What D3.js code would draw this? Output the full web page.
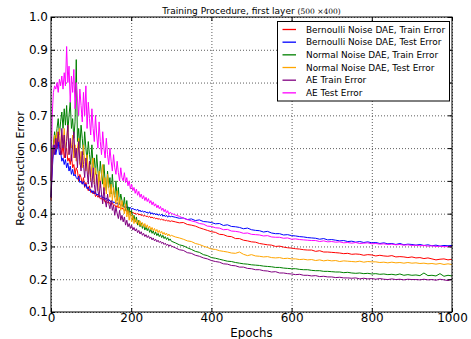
<!DOCTYPE html>
<html>
<head>
<meta charset="utf-8">
<script src="https://cdn.jsdelivr.net/npm/d3@7"></script>
<style>
  body { margin: 0; background: #fff; }
  svg { display: block; font-family: "DejaVu Sans", sans-serif; }
</style>
</head>
<body>
<svg id="chart" width="471" height="339"></svg>
<script>
// sampled epochs: every 3 up to 300, every 10 afterwards
const epochs = d3.range(0, 301, 3).concat(d3.range(310, 1001, 10))

const seriesNames = [
  'Bernoulli Noise DAE, Train Error',
  'Bernoulli Noise DAE, Test Error',
  'Normal Noise DAE, Train Error',
  'Normal Noise DAE, Test Error',
  'AE Train Error',
  'AE Test Error'
]

const bernoulliTrain = [
  0.44, 0.55, 0.61, 0.63, 0.59, 0.62, 0.64, 0.60, 0.61, 0.58,
  0.61, 0.57, 0.59, 0.60, 0.56, 0.57, 0.55, 0.58, 0.54, 0.55,
  0.52, 0.54, 0.53, 0.50, 0.52, 0.51, 0.49, 0.51, 0.48, 0.495,
  0.48, 0.47, 0.485, 0.465, 0.47, 0.46, 0.468, 0.452, 0.458, 0.45,
  0.455, 0.445, 0.448, 0.44, 0.446, 0.435, 0.44, 0.432, 0.436, 0.43,
  0.428, 0.434, 0.424, 0.427, 0.42, 0.425, 0.417, 0.421, 0.414, 0.418,
  0.413, 0.409, 0.415, 0.406, 0.41, 0.404, 0.408, 0.401, 0.405, 0.40,
  0.402, 0.398, 0.401, 0.396, 0.399, 0.394, 0.397, 0.392, 0.395, 0.391,
  0.393, 0.389, 0.392, 0.387, 0.39, 0.386, 0.388, 0.384, 0.386, 0.383,
  0.385, 0.381, 0.384, 0.38, 0.382, 0.378, 0.381, 0.377, 0.379, 0.376,
  0.378,
  0.375, 0.372, 0.373, 0.367, 0.365, 0.362, 0.357, 0.353, 0.349, 0.345,
  0.343, 0.337, 0.336, 0.331, 0.33, 0.324, 0.324, 0.319, 0.317, 0.314,
  0.313, 0.309, 0.307, 0.305, 0.304, 0.30, 0.301, 0.298, 0.296, 0.295,
  0.293, 0.292, 0.29, 0.289, 0.289, 0.285, 0.287, 0.283, 0.283, 0.282,
  0.281, 0.28, 0.278, 0.279, 0.276, 0.277, 0.276, 0.273, 0.275, 0.274,
  0.271, 0.273, 0.271, 0.27, 0.272, 0.268, 0.269, 0.268, 0.266, 0.268,
  0.265, 0.266, 0.263, 0.265, 0.262, 0.259, 0.261, 0.262, 0.259, 0.261
]

const bernoulliTest = [
  0.45, 0.53, 0.59, 0.61, 0.58, 0.60, 0.62, 0.58, 0.59, 0.56,
  0.57, 0.55, 0.565, 0.54, 0.555, 0.53, 0.545, 0.52, 0.535, 0.515,
  0.52, 0.51, 0.505, 0.515, 0.495, 0.50, 0.49, 0.498, 0.483, 0.49,
  0.476, 0.482, 0.47, 0.474, 0.464, 0.47, 0.46, 0.466, 0.456, 0.46,
  0.455, 0.452, 0.457, 0.447, 0.451, 0.443, 0.448, 0.44, 0.444, 0.438,
  0.437, 0.441, 0.432, 0.436, 0.429, 0.434, 0.426, 0.43, 0.424, 0.428,
  0.423, 0.419, 0.425, 0.417, 0.421, 0.415, 0.419, 0.413, 0.417, 0.412,
  0.413, 0.41, 0.414, 0.407, 0.411, 0.405, 0.409, 0.404, 0.408, 0.403,
  0.405, 0.401, 0.406, 0.399, 0.403, 0.398, 0.402, 0.396, 0.40, 0.395,
  0.398, 0.394, 0.399, 0.392, 0.396, 0.391, 0.395, 0.389, 0.394, 0.39,
  0.392,
  0.389, 0.386, 0.387, 0.382, 0.384, 0.379, 0.381, 0.376, 0.375, 0.373,
  0.369, 0.37, 0.364, 0.366, 0.361, 0.36, 0.358, 0.354, 0.356, 0.351,
  0.349, 0.348, 0.344, 0.346, 0.341, 0.339, 0.339, 0.335, 0.336, 0.333,
  0.332, 0.33, 0.329, 0.327, 0.326, 0.325, 0.322, 0.324, 0.32, 0.321,
  0.319, 0.317, 0.318, 0.315, 0.316, 0.313, 0.315, 0.312, 0.314, 0.311,
  0.312, 0.309, 0.311, 0.308, 0.309, 0.306, 0.309, 0.305, 0.307, 0.306,
  0.304, 0.306, 0.303, 0.305, 0.302, 0.304, 0.301, 0.303, 0.302, 0.303
]

const normalTrain = [
  0.50, 0.58, 0.61, 0.65, 0.62, 0.66, 0.69, 0.64, 0.68, 0.71,
  0.66, 0.72, 0.67, 0.73, 0.65, 0.70, 0.74, 0.66, 0.69, 0.63,
  0.68, 0.87, 0.62, 0.66, 0.60, 0.67, 0.63, 0.58, 0.65, 0.60,
  0.56, 0.62, 0.58, 0.55, 0.61, 0.54, 0.57, 0.52, 0.58, 0.53,
  0.50, 0.56, 0.52, 0.49, 0.55, 0.50, 0.47, 0.53, 0.48, 0.51,
  0.46, 0.52, 0.47, 0.45, 0.50, 0.44, 0.48, 0.43, 0.46, 0.44,
  0.42, 0.45, 0.41, 0.44, 0.40, 0.42, 0.395, 0.41, 0.38, 0.395,
  0.375, 0.39, 0.365, 0.38, 0.36, 0.372, 0.355, 0.366, 0.35, 0.36,
  0.348, 0.357, 0.343, 0.352, 0.34, 0.348, 0.336, 0.344, 0.333, 0.34,
  0.33, 0.337, 0.327, 0.334, 0.324, 0.33, 0.321, 0.327, 0.318, 0.323,
  0.316,
  0.311, 0.305, 0.302, 0.296, 0.291, 0.285, 0.282, 0.275, 0.272, 0.266,
  0.264, 0.261, 0.258, 0.255, 0.254, 0.251, 0.249, 0.247, 0.246, 0.244,
  0.243, 0.242, 0.24, 0.239, 0.238, 0.236, 0.236, 0.234, 0.233, 0.232,
  0.232, 0.23, 0.229, 0.229, 0.227, 0.226, 0.226, 0.224, 0.224, 0.223,
  0.222, 0.222, 0.22, 0.221, 0.219, 0.218, 0.219, 0.217, 0.218, 0.216,
  0.217, 0.215, 0.216, 0.214, 0.215, 0.213, 0.216, 0.212, 0.214, 0.212,
  0.213, 0.211, 0.219, 0.211, 0.212, 0.21, 0.217, 0.209, 0.212, 0.21
]

const normalTest = [
  0.50, 0.57, 0.60, 0.64, 0.61, 0.65, 0.62, 0.66, 0.60, 0.64,
  0.61, 0.66, 0.59, 0.63, 0.67, 0.58, 0.62, 0.60, 0.64, 0.57,
  0.61, 0.56, 0.60, 0.63, 0.55, 0.59, 0.54, 0.61, 0.56, 0.53,
  0.58, 0.52, 0.56, 0.50, 0.55, 0.57, 0.49, 0.54, 0.51, 0.47,
  0.53, 0.48, 0.52, 0.55, 0.47, 0.51, 0.46, 0.52, 0.48, 0.45,
  0.49, 0.44, 0.48, 0.45, 0.43, 0.47, 0.42, 0.45, 0.41, 0.44,
  0.42, 0.40, 0.43, 0.39, 0.41, 0.38, 0.405, 0.375, 0.395, 0.37,
  0.385, 0.37, 0.38, 0.365, 0.378, 0.362, 0.373, 0.36, 0.37, 0.357,
  0.366, 0.355, 0.362, 0.351, 0.358, 0.348, 0.355, 0.345, 0.352, 0.342,
  0.349, 0.34, 0.346, 0.337, 0.343, 0.335, 0.341, 0.332, 0.338, 0.331,
  0.334,
  0.329, 0.326, 0.322, 0.317, 0.315, 0.309, 0.306, 0.301, 0.297, 0.292,
  0.291, 0.287, 0.285, 0.283, 0.28, 0.279, 0.283, 0.276, 0.272, 0.275,
  0.271, 0.27, 0.268, 0.269, 0.266, 0.265, 0.266, 0.263, 0.264, 0.262,
  0.262, 0.26, 0.261, 0.259, 0.26, 0.257, 0.259, 0.256, 0.258, 0.256,
  0.257, 0.254, 0.256, 0.255, 0.254, 0.253, 0.255, 0.252, 0.254, 0.253,
  0.253, 0.251, 0.252, 0.25, 0.252, 0.25, 0.251, 0.249, 0.251, 0.249,
  0.25, 0.248, 0.249, 0.247, 0.248, 0.246, 0.248, 0.245, 0.247, 0.245
]

const aeTrain = [
  0.45, 0.55, 0.61, 0.58, 0.63, 0.60, 0.65, 0.61, 0.58, 0.66,
  0.60, 0.64, 0.57, 0.62, 0.67, 0.58, 0.63, 0.56, 0.61, 0.65,
  0.57, 0.60, 0.54, 0.62, 0.56, 0.53, 0.59, 0.55, 0.51, 0.57,
  0.53, 0.49, 0.56, 0.51, 0.48, 0.54, 0.49, 0.46, 0.52, 0.47,
  0.45, 0.50, 0.46, 0.43, 0.48, 0.44, 0.42, 0.46, 0.43, 0.415,
  0.44, 0.41, 0.425, 0.395, 0.42, 0.40, 0.385, 0.41, 0.38, 0.395,
  0.375, 0.39, 0.365, 0.38, 0.36, 0.37, 0.355, 0.365, 0.35, 0.358,
  0.347, 0.354, 0.342, 0.349, 0.338, 0.345, 0.334, 0.34, 0.33, 0.336,
  0.327, 0.333, 0.324, 0.329, 0.32, 0.326, 0.317, 0.322, 0.314, 0.319,
  0.312, 0.316, 0.309, 0.313, 0.306, 0.31, 0.303, 0.307, 0.30, 0.305,
  0.301,
  0.296, 0.29, 0.288, 0.281, 0.279, 0.273, 0.27, 0.265, 0.262, 0.257,
  0.254, 0.252, 0.247, 0.246, 0.242, 0.241, 0.237, 0.237, 0.233, 0.232,
  0.229, 0.229, 0.226, 0.225, 0.222, 0.223, 0.219, 0.219, 0.217, 0.216,
  0.214, 0.215, 0.212, 0.212, 0.21, 0.211, 0.208, 0.209, 0.207, 0.207,
  0.205, 0.206, 0.204, 0.204, 0.203, 0.204, 0.201, 0.203, 0.201, 0.202,
  0.20, 0.202, 0.20, 0.199, 0.201, 0.199, 0.20, 0.198, 0.20, 0.199,
  0.199, 0.198, 0.20, 0.198, 0.199, 0.197, 0.20, 0.198, 0.196, 0.20
]

const aeTest = [
  0.50, 0.70, 0.77, 0.79, 0.78, 0.80, 0.77, 0.81, 0.79, 0.82,
  0.78, 0.83, 0.79, 0.91, 0.80, 0.85, 0.74, 0.82, 0.77, 0.84,
  0.72, 0.80, 0.75, 0.70, 0.78, 0.73, 0.68, 0.77, 0.70, 0.79,
  0.66, 0.74, 0.69, 0.64, 0.72, 0.66, 0.62, 0.70, 0.64, 0.60,
  0.68, 0.62, 0.58, 0.65, 0.60, 0.57, 0.63, 0.58, 0.55, 0.60,
  0.56, 0.53, 0.58, 0.54, 0.52, 0.56, 0.525, 0.50, 0.54, 0.51,
  0.50, 0.525, 0.495, 0.51, 0.485, 0.50, 0.475, 0.49, 0.47, 0.48,
  0.462, 0.475, 0.456, 0.468, 0.45, 0.46, 0.445, 0.455, 0.44, 0.45,
  0.437, 0.446, 0.432, 0.44, 0.427, 0.436, 0.423, 0.43, 0.418, 0.426,
  0.415, 0.422, 0.41, 0.417, 0.406, 0.413, 0.402, 0.409, 0.398, 0.404,
  0.401,
  0.396, 0.392, 0.386, 0.382, 0.378, 0.375, 0.37, 0.368, 0.362, 0.361,
  0.357, 0.356, 0.351, 0.352, 0.347, 0.346, 0.344, 0.34, 0.341, 0.337,
  0.336, 0.335, 0.332, 0.333, 0.329, 0.328, 0.328, 0.325, 0.326, 0.322,
  0.323, 0.321, 0.32, 0.319, 0.318, 0.318, 0.315, 0.317, 0.314, 0.315,
  0.313, 0.314, 0.311, 0.312, 0.31, 0.312, 0.309, 0.31, 0.311, 0.308,
  0.309, 0.307, 0.308, 0.306, 0.307, 0.305, 0.306, 0.304, 0.305, 0.303,
  0.304, 0.302, 0.303, 0.301, 0.302, 0.30, 0.301, 0.299, 0.30, 0.299
]

const xTicks = [0, 200, 400, 600, 800, 1000]
const yTicks = [0.1, 0.2, 0.3, 0.4, 0.5, 0.6, 0.7, 0.8, 0.9, 1.0]

const allSeries = [bernoulliTrain, bernoulliTest, normalTrain, normalTest, aeTrain, aeTest]
const colors = ['#ff0000', '#0000ff', '#008000', '#ffa500', '#800080', '#ff00ff']

const MARGIN = { top: 17, right: 19, bottom: 27, left: 51 }
const W = 471
const H = 339
const plotW = W - MARGIN.left - MARGIN.right
const plotH = H - MARGIN.top - MARGIN.bottom

const svg = d3.select('#chart')
const g = svg.append('g').attr('transform', `translate(${MARGIN.left},${MARGIN.top})`)

const x = d3.scaleLinear().domain([0, 1000]).range([0, plotW])
const y = d3.scaleLinear().domain([0.1, 1.0]).range([plotH, 0])

// grid (dotted)
g.append('g')
  .attr('transform', `translate(0,${plotH})`)
  .call(d3.axisBottom(x).tickValues(xTicks).tickSize(-plotH).tickFormat(''))
  .call(s => s.select('.domain').remove())
  .selectAll('line')
  .attr('stroke', '#333').attr('stroke-dasharray', '1,2').attr('stroke-width', 0.8)

g.append('g')
  .call(d3.axisLeft(y).tickValues(yTicks).tickSize(-plotW).tickFormat(''))
  .call(s => s.select('.domain').remove())
  .selectAll('line')
  .attr('stroke', '#333').attr('stroke-dasharray', '1,2').attr('stroke-width', 0.8)

// lines, drawn in legend order so AE test ends on top
const line = d3.line()
  .x((d, i) => x(epochs[i]))
  .y(d => y(d))

allSeries.forEach((s, i) => {
  g.append('path')
    .datum(s)
    .attr('fill', 'none')
    .attr('stroke', colors[i])
    .attr('stroke-width', 1)
    .attr('stroke-linejoin', 'round')
    .attr('d', line)
})

// frame
g.append('rect')
  .attr('x', 0).attr('y', 0)
  .attr('width', plotW).attr('height', plotH)
  .attr('fill', 'none').attr('stroke', '#000').attr('stroke-width', 1)

// axes with inward ticks on all four sides
const styleAxis = s => {
  s.select('.domain').remove()
  s.selectAll('line').attr('stroke', '#000')
  s.selectAll('text').attr('font-family', '"DejaVu Sans", sans-serif').attr('font-size', 12).attr('fill', '#000')
}

g.append('g')
  .attr('transform', `translate(0,${plotH})`)
  .call(d3.axisBottom(x).tickValues(xTicks).tickSize(-4).tickPadding(1).tickFormat(d3.format('d')))
  .call(styleAxis)

g.append('g')
  .call(d3.axisTop(x).tickValues(xTicks).tickSize(-4).tickFormat(''))
  .call(styleAxis)

g.append('g')
  .call(d3.axisLeft(y).tickValues(yTicks).tickSize(-4).tickPadding(3).tickFormat(d3.format('.1f')))
  .call(styleAxis)

g.append('g')
  .attr('transform', `translate(${plotW},0)`)
  .call(d3.axisRight(y).tickValues(yTicks).tickSize(-4).tickFormat(''))
  .call(styleAxis)

// title
const title = svg.append('text')
  .attr('x', MARGIN.left + plotW / 2)
  .attr('y', 14)
  .attr('text-anchor', 'middle')
  .attr('font-size', 9)
  .attr('fill', '#000')
title.append('tspan').text('Training Procedure, first layer ')
title.append('tspan')
  .attr('font-family', '"DejaVu Serif", serif')
  .attr('font-size', 7.5)
  .text('(500 ×400)')

// axis labels
svg.append('text')
  .attr('x', MARGIN.left + plotW / 2)
  .attr('y', 337)
  .attr('text-anchor', 'middle')
  .attr('font-size', 11.8)
  .text('Epochs')

svg.append('text')
  .attr('transform', `translate(24,${MARGIN.top + plotH / 2 + 4}) rotate(-90)`)
  .attr('text-anchor', 'middle')
  .attr('font-size', 11.2)
  .text('Reconstruction Error')

// legend
const legend = svg.append('g').attr('transform', 'translate(277.5,21.5)')
legend.append('rect')
  .attr('width', 172).attr('height', 79.5)
  .attr('fill', '#fff').attr('stroke', '#000').attr('stroke-width', 1)

seriesNames.forEach((name, i) => {
  const row = legend.append('g').attr('transform', `translate(0,${8 + i * 12.67})`)
  row.append('line')
    .attr('x1', 5).attr('x2', 18.5)
    .attr('y1', 0).attr('y2', 0)
    .attr('stroke', colors[i]).attr('stroke-width', 1.3)
  row.append('text')
    .attr('x', 28.5).attr('y', 3.3)
    .attr('font-size', 8.9)
    .text(name)
})
</script>
</body>
</html>
